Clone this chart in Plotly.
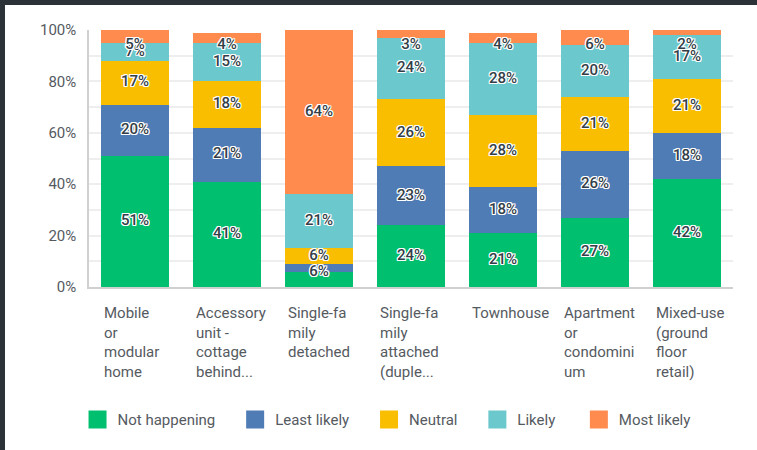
import plotly.graph_objects as go

categories = ["Mobile or modular home", "Accessory unit - cottage behind...",
              "Single-family detached", "Single-family attached (duple...",
              "Townhouse", "Apartment or condominium", "Mixed-use (ground floor retail)"]
tick_labels = ["Mobile<br>or<br>modular<br>home",
               "Accessory<br>unit -<br>cottage<br>behind...",
               "Single-fa<br>mily<br>detached",
               "Single-fa<br>mily<br>attached<br>(duple...",
               "Townhouse",
               "Apartment<br>or<br>condomini<br>um",
               "Mixed-use<br>(ground<br>floor<br>retail)"]

series_names = ["Not happening", "Least likely", "Neutral", "Likely", "Most likely"]
legend_pad = [4, 4, 4, 5, 0]
not_happening = [51, 41, 6, 24, 21, 27, 42]
least_likely = [20, 21, 3, 23, 18, 26, 18]
neutral = [17, 18, 6, 26, 28, 21, 21]
likely = [7, 15, 21, 24, 28, 20, 17]
most_likely = [5, 4, 64, 3, 4, 6, 2]
series_values = [not_happening, least_likely, neutral, likely, most_likely]
colors = ["#00BF6F", "#507CB6", "#F9BE00", "#6BC8CD", "#FF8B4F"]

font_family = "Roboto, Arial, sans-serif"
fig = go.Figure()

for name, vals, col in zip(series_names, series_values, colors):
    fig.add_trace(go.Bar(x=categories, y=vals, name=name, marker=dict(color=col, line=dict(width=0)),
                         showlegend=False, hoverinfo="skip"))

# labels positioned from cumulative sums
lx, ly, lt = [], [], []
for ci, cat in enumerate(categories):
    base = 0
    n = len(series_values)
    for si, vals in enumerate(series_values):
        v = vals[ci]
        center = base + v / 2
        base += v
        if v <= 3 and si != n - 1:
            continue
        y = min(max(center, 5.8), 94)
        lx.append(cat)
        ly.append(y)
        lt.append(f"{v}%")
fig.add_trace(go.Scatter(x=lx, y=ly, text=lt, mode="text", showlegend=False, hoverinfo="skip",
                         textfont=dict(family=font_family, size=15, color="#333e48", weight=500,
                                       shadow="1px 1px 0 #fff, -1px -1px 0 #fff, 1px -1px 0 #fff, -1px 1px 0 #fff, 0 1px 0 #fff, 0 -1px 0 #fff, 1px 0 0 #fff, -1px 0 0 #fff")))

# legend entries
for name, col, pad in zip(series_names, colors, legend_pad):
    fig.add_trace(go.Scatter(x=[None], y=[None], mode="markers", name=name + "\u00a0" * pad,
                             marker=dict(symbol="square", size=16, color=col, line=dict(color=col, width=2))))

# category labels (left aligned under bars)
for cat, lab in zip(categories, tick_labels):
    fig.add_annotation(x=cat, y=0, xref="x", yref="y", text=lab, showarrow=False,
                       xanchor="left", yanchor="top", align="left", xshift=-33, yshift=-15,
                       font=dict(family=font_family, size=15, color="#555a5f"))

fig.update_layout(
    width=752, height=445,
    margin=dict(l=84, r=24, t=25, b=163),
    paper_bgcolor="white", plot_bgcolor="white",
    barmode="stack", bargap=0.26,
    font=dict(family=font_family, color="#555a5f"),
    showlegend=True,
    legend=dict(orientation="h", traceorder="normal", x=0.462, xanchor="center", y=-0.452, yanchor="top",
                font=dict(family=font_family, size=15, color="#555a5f"),
                itemclick=False, itemdoubleclick=False),
    xaxis=dict(showticklabels=False, showline=True, linecolor="#d0d0d0", linewidth=1.5,
               showgrid=False, ticks="", fixedrange=True),
    yaxis=dict(range=[0, 100], tickvals=[0, 20, 40, 60, 80, 100], ticktext=["0%", "20%", "40%", "60%", "80%", "100%"],
               showgrid=True, gridcolor="#eeeeee", gridwidth=1.5,
               minor=dict(dtick=10, showgrid=True, gridcolor="#eeeeee", gridwidth=1.5),
               showline=True, linecolor="#d0d0d0", linewidth=1.5, zeroline=False,
               tickfont=dict(family=font_family, size=15, color="#555a5f"), ticklabelstandoff=8,
               fixedrange=True),
)

fig.write_html("out.html", config={"displayModeBar": False},
               post_script="document.body.style.margin='0';document.body.style.padding='5px 0 0 5px';"
                           "document.body.style.background='#2b3339';document.body.style.overflow='hidden';")
